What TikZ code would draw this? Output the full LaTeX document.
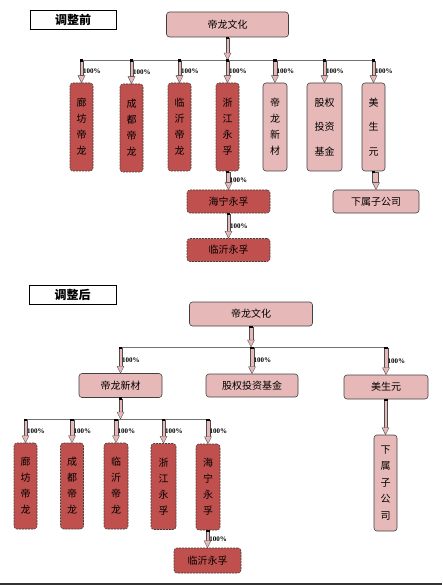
\documentclass[tikz,border=0pt]{standalone}
\usepackage{fontspec}
\newfontfamily\cjk{Noto Sans CJK SC}
\newfontfamily\pctfont{Liberation Serif}
\usetikzlibrary{calc}
\definecolor{pinkL}{HTML}{E6B9B8}
\definecolor{redD}{HTML}{C0504D}
\tikzset{
  lightbox/.style={draw=black!75, line width=0.6pt, fill=pinkL, rounded corners=3pt,
    font=\cjk\fontsize{10}{16}\selectfont, align=center, inner sep=0pt},
  darkbox/.style={lightbox, fill=redD, dash pattern=on 2pt off 1pt},
  titlebox/.style={draw=black, line width=0.8pt, fill=white,
    font=\cjk\bfseries\fontsize{12}{14}\selectfont, inner sep=0pt},
  busline/.style={draw=black!55, line width=0.6pt},
  arrbody/.style={draw=black!70, line width=0.4pt, fill=pinkL},
  pct/.style={font=\pctfont\bfseries\fontsize{7}{7}\selectfont, inner sep=0pt, right=1.5pt},
}
% fat arrow: [label]{from}{to}, always pointing down
\newcommand{\fatarr}[3][]{%
  \path[arrbody] ($(#2)+(-1.8,1)$) rectangle ($(#3)+(1.8,-7)$);
  \path[arrbody] ($(#3)+(-3.5,-7)$) -- (#3) -- ($(#3)+(3.5,-7)$) -- cycle;
  \fill[black] ($(#2)+(-1.8,-0.5)$) rectangle ($(#2)+(1.8,2)$);
  \path (#2) -- (#3) node[pct, midway] {#1};
}
\begin{document}
\begin{tikzpicture}[x=1pt, y=-1pt]
    \useasboundingbox (0,0) rectangle (442,585);
    % Antes del ajuste
    \node[titlebox, minimum width=86pt, minimum height=19pt] (t_title) at (73,19.5) {调整前};
    \node[lightbox, minimum width=122pt, minimum height=25pt] (t_root) at (227.5,24.5) {帝龙文化};
    \coordinate (t_bus) at (227.5,60);
    \node[darkbox, minimum width=23pt, minimum height=88pt] (t1) at (81.5,127) {廊\\坊\\帝\\龙};
    \node[darkbox, minimum width=23pt, minimum height=88pt] (t2) at (131.5,128) {成\\都\\帝\\龙};
    \node[darkbox, minimum width=23pt, minimum height=88pt] (t3) at (179.5,127) {临\\沂\\帝\\龙};
    \node[darkbox, minimum width=23pt, minimum height=88pt] (t4) at (227.5,127) {浙\\江\\永\\孚};
    \node[lightbox, minimum width=24pt, minimum height=88pt] (t5) at (275,127) {帝\\龙\\新\\材};
    \node[lightbox, minimum width=35pt, minimum height=88pt,
          font=\cjk\fontsize{10}{24.5}\selectfont] (t6) at (324.5,127) {股权\\投资\\基金};
    \node[lightbox, minimum width=23pt, minimum height=88pt,
          font=\cjk\fontsize{10}{24.5}\selectfont] (t7) at (373.5,127) {美\\生\\元};
    \node[darkbox, minimum width=83pt, minimum height=23pt] (t8) at (228.5,201.5) {海宁永孚};
    \node[darkbox, minimum width=83pt, minimum height=23pt] (t9) at (228.5,250) {临沂永孚};
    \node[lightbox, minimum width=86pt, minimum height=23pt] (t10) at (376,201.5) {下属子公司};
    \draw[busline] (t1.north |- t_bus) -- (t7.north |- t_bus);
    \fatarr{t_root.south}{t_bus}
    \foreach \n in {t1,t2,t3,t4,t5,t6,t7}
        \fatarr[100\%]{\n.north |- t_bus}{\n.north};
    \fatarr[100\%]{t4.south}{t8.north}
    \fatarr[100\%]{t8.south}{t9.north}
    \fatarr{t7.south}{t10.north}
    % Despues del ajuste
    \node[titlebox, minimum width=87pt, minimum height=19pt] (b_title) at (72.5,294.5) {调整后};
    \node[lightbox, minimum width=123pt, minimum height=24pt] (b_root) at (251,314) {帝龙文化};
    \coordinate (b_bus) at (251,347);
    \node[lightbox, minimum width=83pt, minimum height=24pt] (b1) at (120.5,385.5) {帝龙新材};
    \node[lightbox, minimum width=92pt, minimum height=23pt] (b2) at (252,385.5) {股权投资基金};
    \node[lightbox, minimum width=84pt, minimum height=24pt] (b3) at (386,387) {美生元};
    \node[lightbox, minimum width=23pt, minimum height=96pt,
          font=\cjk\fontsize{10}{16.5}\selectfont] (b4) at (385.5,483) {下\\属\\子\\公\\司};
    \coordinate (c_bus) at (120.5,419);
    \node[darkbox, minimum width=23pt, minimum height=86pt] (c1) at (25.5,486) {廊\\坊\\帝\\龙};
    \node[darkbox, minimum width=23pt, minimum height=86pt] (c2) at (72,486) {成\\都\\帝\\龙};
    \node[darkbox, minimum width=24pt, minimum height=86pt] (c3) at (116,486) {临\\沂\\帝\\龙};
    \node[darkbox, minimum width=25pt, minimum height=86pt] (c4) at (163.5,486.5) {浙\\江\\永\\孚};
    \node[darkbox, minimum width=24pt, minimum height=86pt] (c5) at (208,487) {海\\宁\\永\\孚};
    \node[darkbox, minimum width=67pt, minimum height=25pt] (c6) at (207.5,560.5) {临沂永孚};
    \draw[busline] (b1.north |- b_bus) -- (b3.north |- b_bus);
    \draw[busline] (c1.north |- c_bus) -- (c5.north |- c_bus);
    \fatarr{b_root.south}{b_bus}
    \foreach \n in {b1,b2,b3}
        \fatarr[100\%]{\n.north |- b_bus}{\n.north};
    \fatarr{b1.south}{c_bus}
    \foreach \n in {c1,c2,c3,c4,c5}
        \fatarr[100\%]{\n.north |- c_bus}{\n.north};
    \fatarr[100\%]{c5.south}{c6.north}
    \fatarr{b3.south}{b4.north}
    % Linea inferior
    \draw[line width=1.5pt, black!80] (0,584) -- (442,584);
\end{tikzpicture}
\end{document}
